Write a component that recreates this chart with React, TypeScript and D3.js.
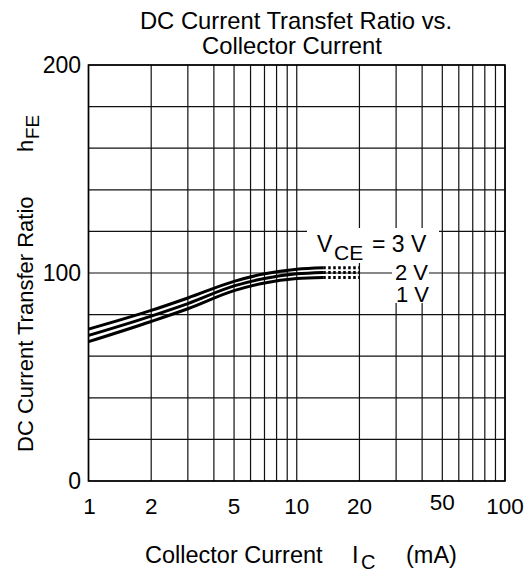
import React from 'react'
import * as d3 from 'd3'

// collector current (mA) and hFE for each VCE
const ic = [1, 2, 3, 5, 7, 10, 13.4]
const hfe3V = [73, 82, 88, 96, 99.6, 101.8, 102.5]
const hfe2V = [70, 79.3, 85.3, 93.8, 97.4, 99.6, 100.3]
const hfe1V = [67, 76.7, 82.8, 91.5, 95.2, 97.3, 97.8]
const dottedIc = [13.4, 20]

const xTicks = [1, 2, 5, 10, 20, 50, 100]
const yTicks = [0, 100, 200]

const W = 528
const H = 572
const left = 88.5
const right = 505
const top = 65
const bottom = 481

const font = 'Liberation Sans, Arial, sans-serif'

const App: React.FC = () => {
  const x = d3.scaleLog().domain([1, 100]).range([left, right])
  const y = d3.scaleLinear().domain([0, 200]).range([bottom, top])

  const vGrid: number[] = []
  for (const dec of [1, 10]) for (let k = 1; k <= 9; k++) vGrid.push(dec * k)
  vGrid.push(100)
  const hGrid = d3.range(0, 201, 20)

  const line = d3
    .line<[number, number]>()
    .x((d) => x(d[0]))
    .y((d) => y(d[1]))
    .curve(d3.curveMonotoneX)

  const series = [hfe3V, hfe2V, hfe1V]

  return (
    <svg width={W} height={H} style={{ position: 'absolute', left: 0, top: 0, background: '#fff' }}>
      <rect width={W} height={H} fill="#fff" />
      {/* grid */}
      {vGrid.map((v) => (
        <line key={'v' + v} x1={x(v)} x2={x(v)} y1={top} y2={bottom} stroke="#111" strokeWidth={1.2} />
      ))}
      {hGrid.map((v) => (
        <line key={'h' + v} x1={left} x2={right} y1={y(v)} y2={y(v)} stroke="#111" strokeWidth={1.2} />
      ))}
      <rect x={left} y={top} width={right - left} height={bottom - top} fill="none" stroke="#000" strokeWidth={1.6} />

      {/* curves */}
      {series.map((s, i) => (
        <g key={i}>
          <path
            d={line(ic.map((c, j) => [c, s[j]]) as [number, number][]) || ''}
            fill="none"
            stroke="#000"
            strokeWidth={3}
          />
          <path
            d={line(dottedIc.map((c) => [c, s[s.length - 1]]) as [number, number][]) || ''}
            fill="none"
            stroke="#000"
            strokeWidth={3}
            strokeDasharray="2.5,2.5"
          />
        </g>
      ))}

      {/* label boxes */}
      <rect x={307} y={228} width={132} height={35} fill="#fff" />
      <rect x={392} y={263} width={37} height={40} fill="#fff" />
      <text fontFamily={font} fontSize={23} fill="#000">
        <tspan x={317} y={252}>V</tspan>
        <tspan x={334} y={260} fontSize={21}>CE</tspan>
        <tspan x={372} y={252}>= 3 V</tspan>
      </text>
      <text fontFamily={font} fontSize={22} x={395} y={280}>2 V</text>
      <text fontFamily={font} fontSize={22} x={396} y={302}>1 V</text>

      {/* y ticks */}
      {yTicks.map((t) => (
        <text key={t} x={81} y={y(t) + 8} textAnchor="end" fontFamily={font} fontSize={23}>
          {t}
        </text>
      ))}
      {/* x ticks */}
      {xTicks.map((t) => (
        <text key={t} x={x(t) + (t === 1 ? 1 : 0)} y={t === 50 ? 510 : 514} textAnchor="middle" fontFamily={font} fontSize={22.5}>
          {t}
        </text>
      ))}

      {/* titles */}
      <text x={296} y={29} textAnchor="middle" fontFamily={font} fontSize={23.8}>
        DC Current Transfet Ratio vs.
      </text>
      <text x={292} y={54} textAnchor="middle" fontFamily={font} fontSize={23.8}>
        Collector Current
      </text>

      <text fontFamily={font} fontSize={23.5}>
        <tspan x={145} y={563}>Collector Current</tspan>
        <tspan x={352} y={563}>I</tspan>
        <tspan x={361} y={569} fontSize={20}>C</tspan>
        <tspan x={406} y={563}>(mA)</tspan>
      </text>

      <g transform="translate(33,452) rotate(-90)">
        <text fontFamily={font} fontSize={22} x={0} y={0}>
          DC Current Transfer Ratio
        </text>
        <text fontFamily={font} fontSize={22} x={300} y={0}>
          h
        </text>
        <text fontFamily={font} fontSize={19} x={313} y={6}>
          FE
        </text>
      </g>
    </svg>
  )
}

export default App
